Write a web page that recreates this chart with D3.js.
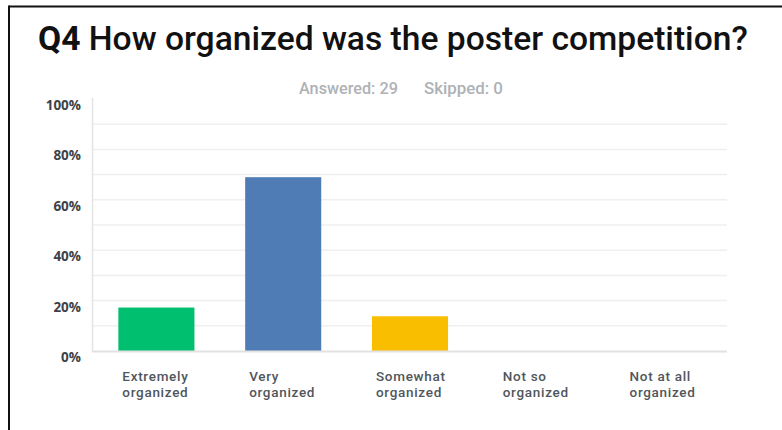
<!DOCTYPE html>
<html><head><meta charset="utf-8">
<script src="https://cdn.jsdelivr.net/npm/d3@7"></script>
<style>html,body{margin:0;padding:0;background:#fff;}svg{display:block;}</style>
</head><body>
<svg id="c" width="782" height="430"></svg>
<script>
const categories = [["Extremely","organized"],["Very","organized"],["Somewhat","organized"],["Not so","organized"],["Not at all","organized"]];
const categoryKeys = ["Extremely organized","Very organized","Somewhat organized","Not so organized","Not at all organized"];
const values = [17.24, 68.97, 13.79, 0, 0];
const colors = ["#00bf6f","#507cb6","#f9be00","#507cb6","#507cb6"];
const yTickLabels = [0,20,40,60,80,100];
const gridValues = [10,20,30,40,50,60,70,80,90];
const titleBold = "Q4";
const titleText = "How organized was the poster competition?";
const answered = "Answered: 29";
const skipped = "Skipped: 0";

const svg = d3.select("#c");
// frame
svg.append("line").attr("x1",9).attr("x2",782).attr("y1",6.5).attr("y2",6.5).attr("stroke","#111").attr("stroke-width",2);
svg.append("line").attr("x1",9).attr("x2",9).attr("y1",5.5).attr("y2",430).attr("stroke","#111").attr("stroke-width",2);

const x = d3.scaleBand().domain(categoryKeys).range([93,727]).paddingInner(0.4).paddingOuter(0.2);
const y = d3.scaleLinear().domain([0,100]).range([351,99]);

// gridlines
svg.append("g").selectAll("line").data(gridValues).join("line")
  .attr("x1",93).attr("x2",727).attr("y1",d=>y(d)).attr("y2",d=>y(d))
  .attr("stroke","#efefef").attr("stroke-width",1.5);
// y axis line
svg.append("line").attr("x1",92.5).attr("x2",92.5).attr("y1",98).attr("y2",352).attr("stroke","#e4e4e4").attr("stroke-width",1.5);

// bars
svg.append("g").selectAll("rect").data(values).join("rect")
  .attr("x",(d,i)=>x(categoryKeys[i])).attr("width",x.bandwidth())
  .attr("y",d=>y(d)).attr("height",d=>y(0)-y(d))
  .attr("fill",(d,i)=>colors[i]);

// baseline
svg.append("line").attr("x1",92).attr("x2",727).attr("y1",351.5).attr("y2",351.5).attr("stroke","#e2e2e2").attr("stroke-width",2);

// y tick labels
svg.append("g").selectAll("text").data(yTickLabels).join("text")
  .attr("x",81).attr("y",d=>y(d)+11).attr("text-anchor","end")
  .attr("font-family","Open Sans").attr("font-weight",700).attr("font-size",13.5)
  .attr("fill","#3d4248").text(d=>d+"%");

// category labels (one text per line)
const labelLines = [];
categories.forEach((lines,i)=>lines.forEach((t,j)=>labelLines.push({t,i,j})));
svg.append("g").selectAll("text").data(labelLines).join("text")
  .attr("x",d=>x(categoryKeys[d.i])+4).attr("y",d=>380.5+16*d.j)
  .attr("font-family","Roboto").attr("font-weight",500).attr("font-size",13.5)
  .attr("letter-spacing",0.7)
  .attr("fill","#50565c").text(d=>d.t);

// title
const title = svg.append("text").attr("x",38).attr("y",50)
  .attr("font-family","Roboto").attr("font-size",31).attr("fill","#111");
title.append("tspan").attr("font-weight",700).text(titleBold);
title.append("tspan").attr("font-weight",500).text(" "+titleText);
const tw = title.node().getComputedTextLength();
title.attr("font-size",31*710/tw);

// subtitle
svg.append("text").attr("x",299).attr("y",93.5).attr("font-family","Roboto").attr("font-weight",500)
  .attr("font-size",15).attr("fill","#aeb2b6").text(answered)
  .each(function(){const w=this.getComputedTextLength(); d3.select(this).attr("font-size",15*99/w);});
svg.append("text").attr("x",424).attr("y",93.5).attr("font-family","Roboto").attr("font-weight",500)
  .attr("font-size",15).attr("fill","#aeb2b6").text(skipped)
  .each(function(){const w=this.getComputedTextLength(); d3.select(this).attr("font-size",15*79/w);});
</script>
</body></html>
